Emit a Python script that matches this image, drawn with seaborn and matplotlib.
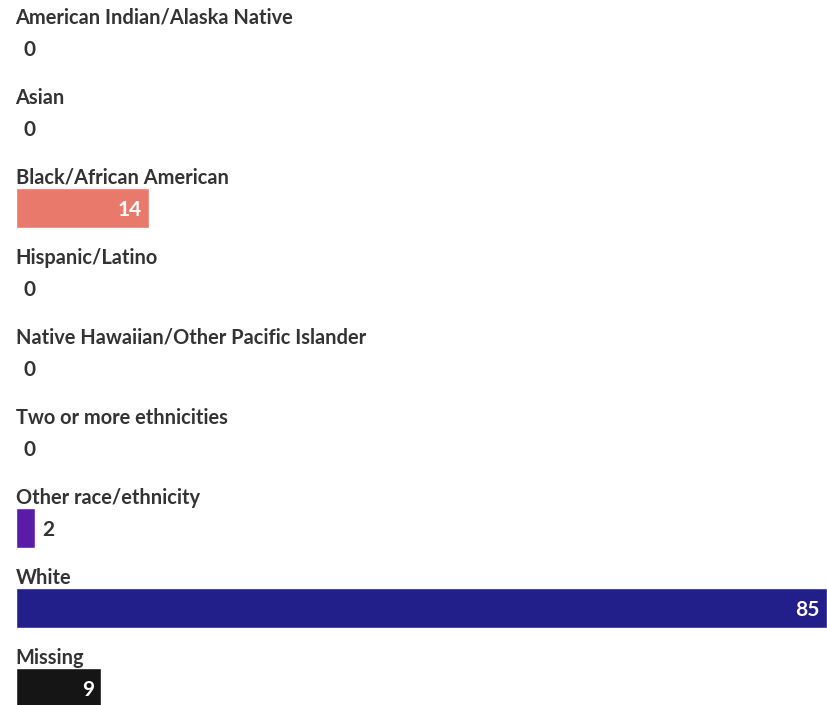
import matplotlib
matplotlib.use("Agg")
import matplotlib.pyplot as plt
import seaborn as sns
import pandas as pd

# data
groups = ["American Indian/Alaska Native", "Asian", "Black/African American",
          "Hispanic/Latino", "Native Hawaiian/Other Pacific Islander",
          "Two or more ethnicities", "Other race/ethnicity", "White", "Missing"]
counts = [0, 0, 14, 0, 0, 0, 2, 85, 9]
bar_colors = ["#cccccc", "#cccccc", "#e8796b", "#cccccc", "#cccccc",
              "#cccccc", "#5a1ca8", "#221f8a", "#151515"]

df = pd.DataFrame({"group": groups, "count": counts})

sns.set_style("white")
plt.rcParams["font.family"] = ["Lato", "DejaVu Sans"]

fig = plt.figure(figsize=(8.27, 7.05), dpi=100)
ax = fig.add_axes([15.5 / 827, 0, 811 / 827, 1])

sns.barplot(data=df, x="count", y="group", hue="group", order=groups,
            palette=dict(zip(groups, bar_colors)), legend=False,
            width=0.5, orient="h", ax=ax, saturation=1)

ax.set_xlim(0, 85)
ax.set_ylim((705 - 48) / 80, -48 / 80)

px = 85 / 811  # one pixel in data units
for i, (g, v) in enumerate(zip(groups, counts)):
    ax.text(0, i - 0.375, g, ha="left", va="center", fontsize=14.4,
            fontweight="bold", color="#333333")
    if v >= 5:
        ax.text(v - 7 * px, i + 0.02, str(v), ha="right", va="center",
                fontsize=15, fontweight="bold", color="white")
    else:
        ax.text(v + 8 * px, i + 0.02, str(v), ha="left", va="center",
                fontsize=15, fontweight="bold", color="#333333")

ax.set_axis_off()
fig.savefig("out.png", dpi=100)
